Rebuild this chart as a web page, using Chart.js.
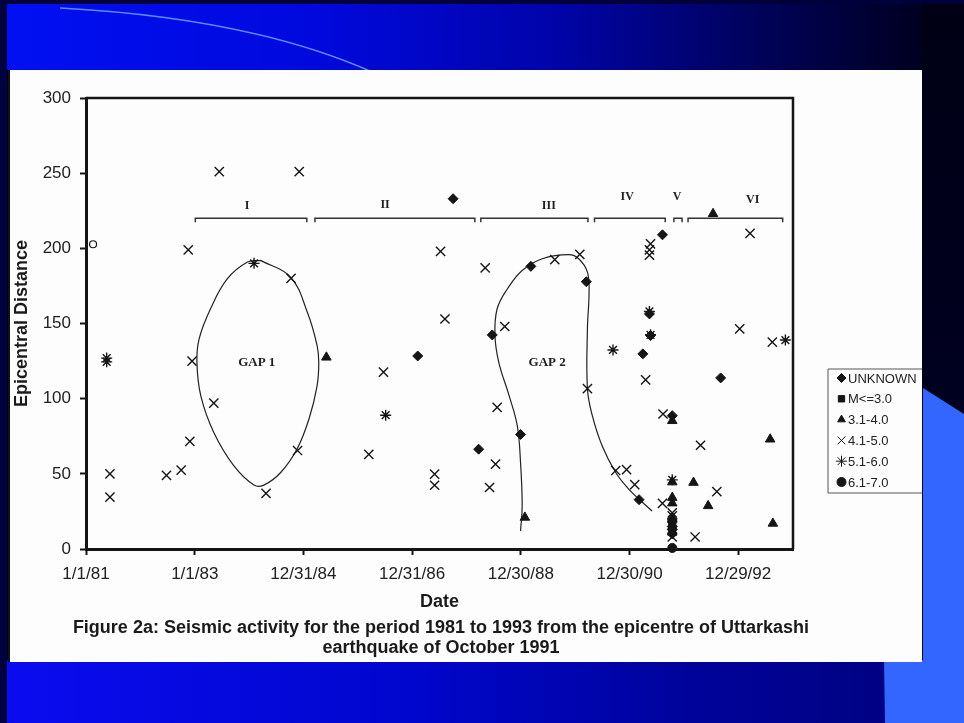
<!DOCTYPE html>
<html lang="en">
<head>
<meta charset="UTF-8">
<title>Seismic activity 1981-1993</title>
<style>
  body { margin: 0; background: #000018; }
  #slide { position: relative; width: 964px; height: 723px; overflow: hidden; background: #00001c; }
  #topband { position: absolute; left: 0; top: 0; width: 923px; height: 70px;
    background: linear-gradient(to right, #0010f2 0%, #0008dc 35%, #0004a8 60%, #00025a 82%, #000020 100%); }
  #botband { position: absolute; left: 0; top: 660px; width: 923px; height: 63px;
    background: linear-gradient(to right, #0a0cf0 0%, #0006cc 45%, #00039a 75%, #00027e 100%); }
  #rightstrip { position: absolute; left: 922px; top: 0; width: 42px; height: 723px;
    background: linear-gradient(to bottom, #000014, #00002a); }
  #edge { position: absolute; left: 0; top: 0; width: 7px; height: 723px; background: #000040; }
  #topedge { position: absolute; left: 0; top: 0; width: 964px; height: 4px; background: #00003a; }
  #panel { position: absolute; left: 8px; top: 70px; width: 914px; height: 592px; background: #fdfdfd;
    border-left: 2px solid #111; box-sizing: border-box; }
  #myChart { position: absolute; left: 8px; top: 70px; }
  #caption { position: absolute; left: 8px; top: 617px; width: 866px; text-align: center;
    font: bold 18px 'Liberation Sans', Arial, sans-serif; line-height: 20px; color: #1a1a1a; }
  svg { position: absolute; left: 0; top: 0; }
</style>
</head>
<body>
<div id="slide">
  <div id="topband"></div>
  <div id="botband"></div>
  <div id="rightstrip"></div>
  <svg width="964" height="723">
    <polygon points="923,388 964,414 964,723 885,723 884,660 923,660" fill="#3366ff"/>
    <path d="M60 8 Q 250 18 372 72" stroke="#5d8cff" stroke-width="1.5" fill="none"/>
  </svg>
  <div id="edge"></div>
  <div id="topedge"></div>
  <div id="panel"></div>
  <canvas id="myChart" width="914" height="592"></canvas>
  <div id="caption">Figure 2a: Seismic activity for the period 1981 to 1993 from the epicentre of Uttarkashi<br>earthquake of October 1991</div>
</div>
<script src="https://cdn.jsdelivr.net/npm/chart.js"></script>
<script>
// x values are decimal years, y values are epicentral distance
const tickLabels = ['1/1/81', '1/1/83', '12/31/84', '12/31/86', '12/30/88', '12/30/90', '12/29/92'];

const unknownPts = [[1987.75,233],[1989.18,188],[1990.2,177.8],[1988.47,142.4],[1987.1,128.4],[1988.22,66.4],
  [1988.99,76.2],[1991.6,209],[1991.36,156.4],[1991.38,142],[1991.24,129.8],[1992.67,113.8],[1991.17,32.8],
  [1991.78,88.7],[1991.78,20],[1991.78,18],[1991.78,15],[1991.78,13],[1991.78,10]];
const m30Pts = [[1991.78,17],[1991.78,11.5]];
const m31Pts = [[1985.42,127.5],[1989.07,21],[1992.53,223],[1991.78,85.3],[1993.58,73],[1991.78,44.5],
  [1991.78,34.2],[1991.78,30.5],[1992.17,44.2],[1992.44,28.7],[1993.63,17]];
const m41Pts = [[1983.45,251],[1984.92,251],[1982.88,199],[1984.77,180],[1982.95,125],[1981.44,50],[1981.44,34.5],
  [1982.48,49],[1982.75,52.5],[1982.91,71.6],[1983.35,97],[1984.31,37],[1984.89,65.5],[1987.52,198],[1988.34,187],
  [1989.62,192.5],[1990.08,196],[1987.6,153],[1988.7,148],[1986.47,117.6],[1986.2,63],[1987.41,49.8],[1987.41,42.4],
  [1988.56,94.2],[1988.53,56.4],[1988.42,40.9],[1990.22,106.7],[1990.74,52.2],[1990.94,52.8],[1991.09,42.8],
  [1991.38,203],[1991.36,199],[1991.36,195.5],[1993.21,210],[1993.02,146.4],[1993.62,137.6],[1991.29,112.5],
  [1991.61,89.8],[1992.3,69],[1991.6,30.4],[1992.6,38.2],[1992.2,8],[1991.78,24],[1991.78,22],[1991.78,16],
  [1991.78,12],[1991.78,8]];
const m51Pts = [[1981.38,127],[1981.38,124.5],[1984.09,190],[1986.51,89],[1990.69,132.4],[1991.36,158],
  [1991.38,142.5],[1993.86,139],[1991.78,46]];
const m61Pts = [[1991.78,0.7]];
const openPts = [[1981.13,202.7]];

// hand drawn gap outlines
const gap1Curve = [[1984.21,192],[1984.76,180.9],[1985.07,157.5],[1985.25,135.3],[1985.28,124.2],[1985.25,108.7],
  [1985.1,86.5],[1984.88,66.5],[1984.58,50.9],[1984.27,42.5],[1984.09,42.5],[1983.72,55.3],[1983.35,77.5],
  [1983.11,102],[1983.04,124.2],[1983.08,139.8],[1983.29,159.8],[1983.6,179.8],[1983.97,190.9],[1984.21,192]];
const gap2Curve = [[1988.99,12],[1989.02,28.7],[1988.99,57.5],[1988.93,82],[1988.78,102],[1988.59,124.2],
  [1988.52,142],[1988.56,159.8],[1988.75,173.1],[1989.02,185.3],[1989.39,193.1],[1989.88,195.8],[1990.06,193.1],
  [1990.22,184.2],[1990.25,170.9],[1990.22,146.5],[1990.22,106.5],[1990.31,88.7],[1990.49,68.7],[1990.74,50.9],
  [1990.98,39.8],[1991.17,33.1],[1991.41,25.3]];
const gapNames = ['GAP 1', 'GAP 2'];
const gapX = [1984.14, 1989.48];
const gapY = [124, 124];

const periodNames = ['I', 'II', 'III', 'IV', 'V', 'VI'];
const periodStart = [1983.01, 1985.21, 1988.26, 1990.35, 1991.81, 1992.07];
const periodEnd = [1985.06, 1988.15, 1990.23, 1991.65, 1991.96, 1993.81];
const periodLabelX = [1983.96, 1986.5, 1989.51, 1990.95, 1991.87, 1993.26];
const periodLabelY = [228, 229, 228, 234, 234, 232];
const bracketY = 220;

function toYear(s) {
  const [m, d, y] = s.split('/').map(Number);
  const yr = 1900 + y;
  const a = Date.UTC(yr, 0, 1), b = Date.UTC(yr + 1, 0, 1);
  return yr + (Date.UTC(yr, m - 1, d) - a) / (b - a);
}
const tickYears = tickLabels.map(toYear);

const INK = '#151515';
const sans = "'Liberation Sans', Arial, sans-serif";
const serif = "'Liberation Serif', 'Times New Roman', serif";

function pts(arr) { return arr.map(p => ({x: p[0], y: p[1]})); }

const series = [
  {label: 'UNKNOWN', data: unknownPts, style: 'rectRot', r: 5},
  {label: 'M<=3.0', data: m30Pts, style: 'rect', r: 5},
  {label: '3.1-4.0', data: m31Pts, style: 'triangle', r: 5.5},
  {label: '4.1-5.0', data: m41Pts, style: 'crossRot', r: 6.5},
  {label: '5.1-6.0', data: m51Pts, style: 'star', r: 5.5},
  {label: '6.1-7.0', data: m61Pts, style: 'circle', r: 4.5}
];

const datasets = series.map(s => ({
  label: s.label,
  data: pts(s.data),
  pointStyle: s.style,
  pointRadius: s.r,
  pointBackgroundColor: INK,
  pointBorderColor: INK,
  pointBorderWidth: (s.style === 'crossRot' || s.style === 'star') ? 1.4 : 1,
  showLine: false,
  clip: false
}));
datasets.push({label: '', data: pts(openPts), pointStyle: 'circle', pointRadius: 3.5,
  pointBackgroundColor: '#fff', pointBorderColor: INK, pointBorderWidth: 1.2, clip: false});
[gap1Curve, gap2Curve].forEach(c => datasets.push({
  label: '', data: pts(c), showLine: true, pointRadius: 0, borderColor: '#222', borderWidth: 1.2,
  tension: 0.4, fill: false
}));

const extras = {
  id: 'extras',
  beforeDatasetsDraw(chart) {
    const {ctx, scales: {x, y}} = chart;
    ctx.save();
    ctx.strokeStyle = '#333';
    ctx.lineWidth = 1.5;
    ctx.fillStyle = '#222';
    ctx.font = 'bold 12px ' + serif;
    ctx.textAlign = 'center';
    ctx.textBaseline = 'middle';
    const by = y.getPixelForValue(bracketY);
    periodNames.forEach((n, i) => {
      const x0 = x.getPixelForValue(periodStart[i]), x1 = x.getPixelForValue(periodEnd[i]);
      ctx.beginPath();
      ctx.moveTo(x0, by + 4); ctx.lineTo(x0, by); ctx.lineTo(x1, by); ctx.lineTo(x1, by + 4);
      ctx.stroke();
      ctx.fillText(n, x.getPixelForValue(periodLabelX[i]), y.getPixelForValue(periodLabelY[i]));
    });
    ctx.font = 'bold 13px ' + serif;
    gapNames.forEach((g, i) => ctx.fillText(g, x.getPixelForValue(gapX[i]), y.getPixelForValue(gapY[i])));
    ctx.restore();
  },
  afterDraw(chart) {
    const {ctx, chartArea: a} = chart;
    ctx.save();
    ctx.strokeStyle = INK;
    ctx.lineWidth = 2.5;
    ctx.beginPath();
    ctx.moveTo(a.left, a.top); ctx.lineTo(a.right, a.top); ctx.lineTo(a.right, a.bottom);
    ctx.stroke();
    // legend box
    const lx = 820, ly = 299, lh = 124;
    ctx.lineWidth = 1;
    ctx.strokeStyle = '#555';
    ctx.beginPath();
    ctx.moveTo(930, ly); ctx.lineTo(lx, ly); ctx.lineTo(lx, ly + lh); ctx.lineTo(930, ly + lh);
    ctx.stroke();
    ctx.font = '13px ' + sans;
    ctx.textAlign = 'left';
    ctx.textBaseline = 'middle';
    series.forEach((s, i) => {
      const yy = ly + 9 + i * 20.8;
      ctx.fillStyle = INK; ctx.strokeStyle = INK;
      Chart.helpers.drawPoint(ctx, {pointStyle: s.style, radius: s.style === 'crossRot' || s.style === 'star' ? 5.5 : 4.5,
        rotation: 0, borderWidth: 1.5}, 833.5, yy);
      ctx.fillStyle = '#222';
      ctx.fillText(s.label, 840, yy + 1);
    });
    ctx.restore();
  }
};

const ctx = document.getElementById('myChart');
new Chart(ctx, {
  type: 'scatter',
  data: {datasets: datasets},
  options: {
    responsive: false,
    animation: false,
    layout: {padding: {top: 28, right: 129, left: 0, bottom: 0}},
    plugins: {legend: {display: false}, tooltip: {enabled: false}},
    scales: {
      x: {
        type: 'linear', min: 1981, max: 1994,
        afterBuildTicks: s => { s.ticks = tickYears.map(v => ({value: v})); },
        afterFit: s => { s.height = 113; },
        ticks: {callback: (v, i) => tickLabels[i], autoSkip: false, maxRotation: 0, padding: 9,
          color: '#222', font: {family: sans, size: 17}},
        grid: {drawOnChartArea: false, tickLength: 6, tickWidth: 2, color: INK},
        border: {color: INK, width: 3},
        title: {display: true, text: 'Date', color: '#1a1a1a', font: {family: sans, size: 18, weight: 'bold'},
          padding: {top: 0, bottom: 49}}
      },
      y: {
        min: 0, max: 300,
        afterFit: s => { s.width = 78; },
        ticks: {stepSize: 50, padding: 9, color: '#222', font: {family: sans, size: 17}},
        grid: {drawOnChartArea: false, tickLength: 6, tickWidth: 2, color: INK},
        border: {color: INK, width: 3},
        title: {display: true, text: 'Epicentral Distance', color: '#1a1a1a',
          font: {family: sans, size: 18, weight: 'bold'}, padding: {top: 3, bottom: 0}}
      }
    }
  },
  plugins: [extras]
});
</script>
</body>
</html>
